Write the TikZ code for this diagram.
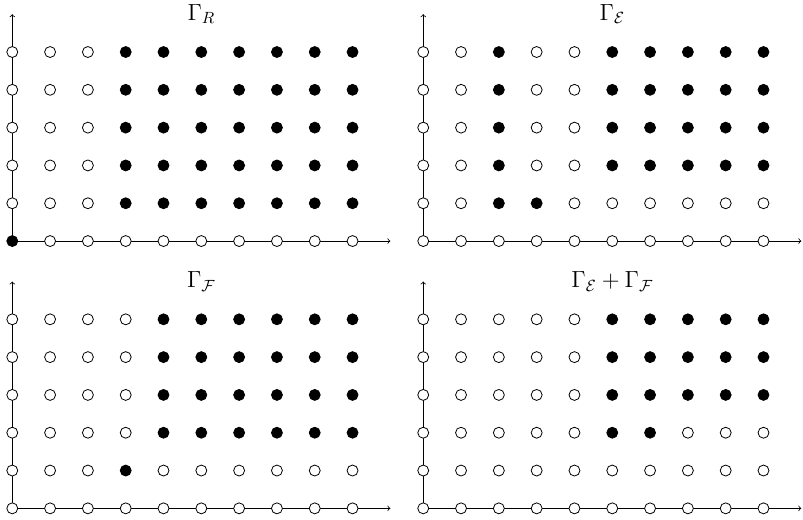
\documentclass[tikz,border=0pt]{standalone}
\usepackage{amsmath}
\tikzset{
  dotbase/.style={circle,draw=black,line width=0.6pt,inner sep=0pt,minimum size=0.29cm},
  opendot/.style={dotbase,fill=white},
  fulldot/.style={dotbase,fill=black},
  axisline/.style={->,line width=0.6pt},
  paneltitle/.style={font=\Large,scale=1.22}
}
\newcommand\dotrow[3]{%
  \foreach \v [count=\i from 0] in {#3} {%
    \ifnum\v=1 \node[fulldot] (#1-\i-#2) at (\i,#2) {};%
    \else \node[opendot] (#1-\i-#2) at (\i,#2) {};\fi
  }%
}
\newcommand\panelaxes[1]{%
  \coordinate (#1-o) at (0,0);
  \coordinate (#1-x) at (10,0);
  \coordinate (#1-y) at (0,6);
  \draw[axisline] (#1-o) -- (#1-x);
  \draw[axisline] (#1-o) -- (#1-y);
}
\begin{document}
\begin{tikzpicture}
\useasboundingbox (-0.325,-7.354) rectangle (20.915,6.376);
% Panel R
\begin{scope}
  \panelaxes{r}
  \dotrow{r}{0}{1,0,0,0,0,0,0,0,0,0}
  \foreach \j in {1,...,5} {\dotrow{r}{\j}{0,0,0,1,1,1,1,1,1,1}}
  \node[paneltitle] (tr) at (5,6) {$\Gamma_R$};
\end{scope}
% Panel E
\begin{scope}[xshift=10.87cm]
  \panelaxes{e}
  \dotrow{e}{0}{0,0,0,0,0,0,0,0,0,0}
  \dotrow{e}{1}{0,0,1,1,0,0,0,0,0,0}
  \foreach \j in {2,...,5} {\dotrow{e}{\j}{0,0,1,0,0,1,1,1,1,1}}
  \node[paneltitle] (te) at (5,6) {$\Gamma_{\mathcal{E}}$};
\end{scope}
% Panel F
\begin{scope}[yshift=-7.07cm]
  \panelaxes{f}
  \dotrow{f}{0}{0,0,0,0,0,0,0,0,0,0}
  \dotrow{f}{1}{0,0,0,1,0,0,0,0,0,0}
  \foreach \j in {2,...,5} {\dotrow{f}{\j}{0,0,0,0,1,1,1,1,1,1}}
  \node[paneltitle] (tf) at (5,6) {$\Gamma_{\mathcal{F}}$};
\end{scope}
% Panel E+F
\begin{scope}[xshift=10.87cm,yshift=-7.07cm]
  \panelaxes{s}
  \dotrow{s}{0}{0,0,0,0,0,0,0,0,0,0}
  \dotrow{s}{1}{0,0,0,0,0,0,0,0,0,0}
  \dotrow{s}{2}{0,0,0,0,0,1,1,0,0,0}
  \foreach \j in {3,...,5} {\dotrow{s}{\j}{0,0,0,0,0,1,1,1,1,1}}
  \node[paneltitle] (ts) at (5,6) {$\Gamma_{\mathcal{E}}+\Gamma_{\mathcal{F}}$};
\end{scope}
\end{tikzpicture}
\end{document}
